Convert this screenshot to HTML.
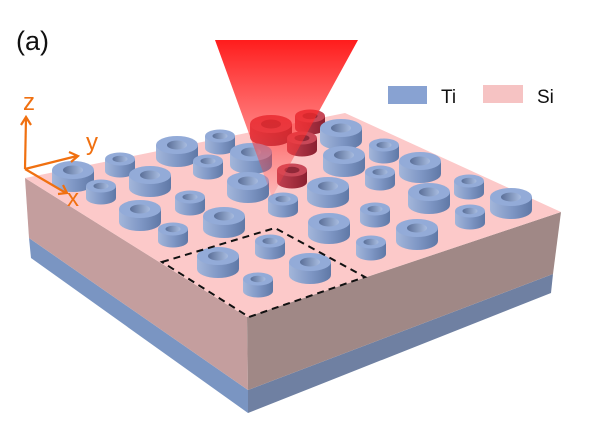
<!DOCTYPE html>
<html><head><meta charset="utf-8"><style>
html,body{margin:0;padding:0;background:#fff;}
svg{display:block;font-family:"Liberation Sans",sans-serif;}
</style></head><body>
<svg width="609" height="426" viewBox="0 0 609 426" xmlns="http://www.w3.org/2000/svg">
<defs>
<linearGradient id="side" x1="0" x2="1"><stop offset="0" stop-color="#a3b6da"/><stop offset="0.5" stop-color="#8098c6"/><stop offset="1" stop-color="#5f78a6"/></linearGradient>
<linearGradient id="hole" x1="0" x2="1"><stop offset="0" stop-color="#5a6f98"/><stop offset="1" stop-color="#a8bce0"/></linearGradient>
<linearGradient id="rside" x1="0" x2="1"><stop offset="0" stop-color="#c24050"/><stop offset="1" stop-color="#8a2030"/></linearGradient>
<linearGradient id="beam" x1="0" y1="0" x2="0" y2="1"><stop offset="0" stop-color="#ff1010" stop-opacity="0.95"/><stop offset="0.6" stop-color="#ff3030" stop-opacity="0.6"/><stop offset="1" stop-color="#ff5050" stop-opacity="0.15"/></linearGradient>
<g id="B"><path d="M-21,0 L-21,13 A21,9 0 0 0 21,13 L21,0 Z" fill="url(#side)"/><ellipse rx="21" ry="9" fill="#93abd8"/><ellipse rx="10" ry="4.5" fill="url(#hole)"/></g>
<g id="S"><path d="M-15,0 L-15,12 A15,6.5 0 0 0 15,12 L15,0 Z" fill="url(#side)"/><ellipse rx="15" ry="6.5" fill="#93abd8"/><ellipse rx="7.5" ry="3.2" fill="url(#hole)"/></g>
<g id="RB"><path d="M-21,0 L-21,13 A21,9 0 0 0 21,13 L21,0 Z" fill="url(#rside)"/><ellipse rx="21" ry="9" fill="#c84858"/><ellipse rx="10" ry="4.5" fill="#902838"/></g>
<g id="RS"><path d="M-15,0 L-15,12 A15,6.5 0 0 0 15,12 L15,0 Z" fill="url(#rside)"/><ellipse rx="15" ry="6.5" fill="#c84858"/><ellipse rx="7.5" ry="3.2" fill="#902838"/></g>
</defs>
<text x="16" y="50" font-size="27" fill="#111">(a)</text>
<polygon points="29,238 248,390 248,413 31,258" fill="#7a95c2"/>
<polygon points="248,390 553,274 551,293 248,413" fill="#6f80a2"/>
<polygon points="25,178 247,317 248,390 29,238" fill="#c49e9e"/>
<polygon points="247,317 561,212 553,274 248,390" fill="#a08886"/>
<polygon points="25,178 345,113 561,212 247,317" fill="#fcc9c9"/>
<use href="#RS" x="310" y="116"/>
<use href="#RB" x="271" y="124"/>
<use href="#B" x="341" y="128"/>
<use href="#S" x="220" y="136"/>
<use href="#RS" x="302" y="138"/>
<use href="#B" x="177" y="145"/>
<use href="#S" x="384" y="145"/>
<use href="#B" x="251" y="152"/>
<use href="#B" x="344" y="155"/>
<use href="#S" x="120" y="159"/>
<use href="#S" x="208" y="161"/>
<use href="#B" x="420" y="161"/>
<use href="#B" x="73" y="170"/>
<use href="#RS" x="292" y="170"/>
<use href="#S" x="380" y="172"/>
<use href="#B" x="150" y="175"/>
<use href="#B" x="248" y="181"/>
<use href="#S" x="469" y="181"/>
<use href="#S" x="101" y="186"/>
<use href="#B" x="328" y="186"/>
<use href="#B" x="429" y="192"/>
<use href="#S" x="190" y="197"/>
<use href="#B" x="511" y="197"/>
<use href="#S" x="283" y="199"/>
<use href="#B" x="140" y="209"/>
<use href="#S" x="375" y="209"/>
<use href="#S" x="470" y="211"/>
<use href="#B" x="224" y="216"/>
<use href="#B" x="329" y="222"/>
<use href="#B" x="417" y="228"/>
<use href="#S" x="173" y="229"/>
<use href="#S" x="270" y="241"/>
<use href="#S" x="371" y="242"/>
<use href="#B" x="218" y="256"/>
<use href="#B" x="310" y="262"/>
<use href="#S" x="258" y="279"/>
<polygon points="215,40 358,40 272,197" fill="url(#beam)"/>
<polygon points="162,262 275,228 365,277 249,317" fill="none" stroke="#111" stroke-width="2" stroke-dasharray="7,5"/>
<g stroke="#f07010" stroke-width="2.2" fill="none">
<line x1="25" y1="169" x2="26" y2="118"/><polyline points="21,125 26,117 31,125"/>
<line x1="25" y1="169" x2="77" y2="156"/><polyline points="69,152 78,156 71,162"/>
<line x1="25" y1="169" x2="66" y2="193"/><polyline points="58,194 67,193 63,185"/>
</g>
<g fill="#f07010" font-size="24">
<text x="23" y="110">z</text>
<text x="86" y="150">y</text>
<text x="67" y="206">x</text>
</g>
<rect x="388" y="86" width="39" height="18" fill="#88a2d2"/>
<text x="441" y="103" font-size="19" fill="#111">Ti</text>
<rect x="483" y="85" width="40" height="18" fill="#f6c3c3"/>
<text x="537" y="103" font-size="19" fill="#111">Si</text>
</svg>
</body></html>
